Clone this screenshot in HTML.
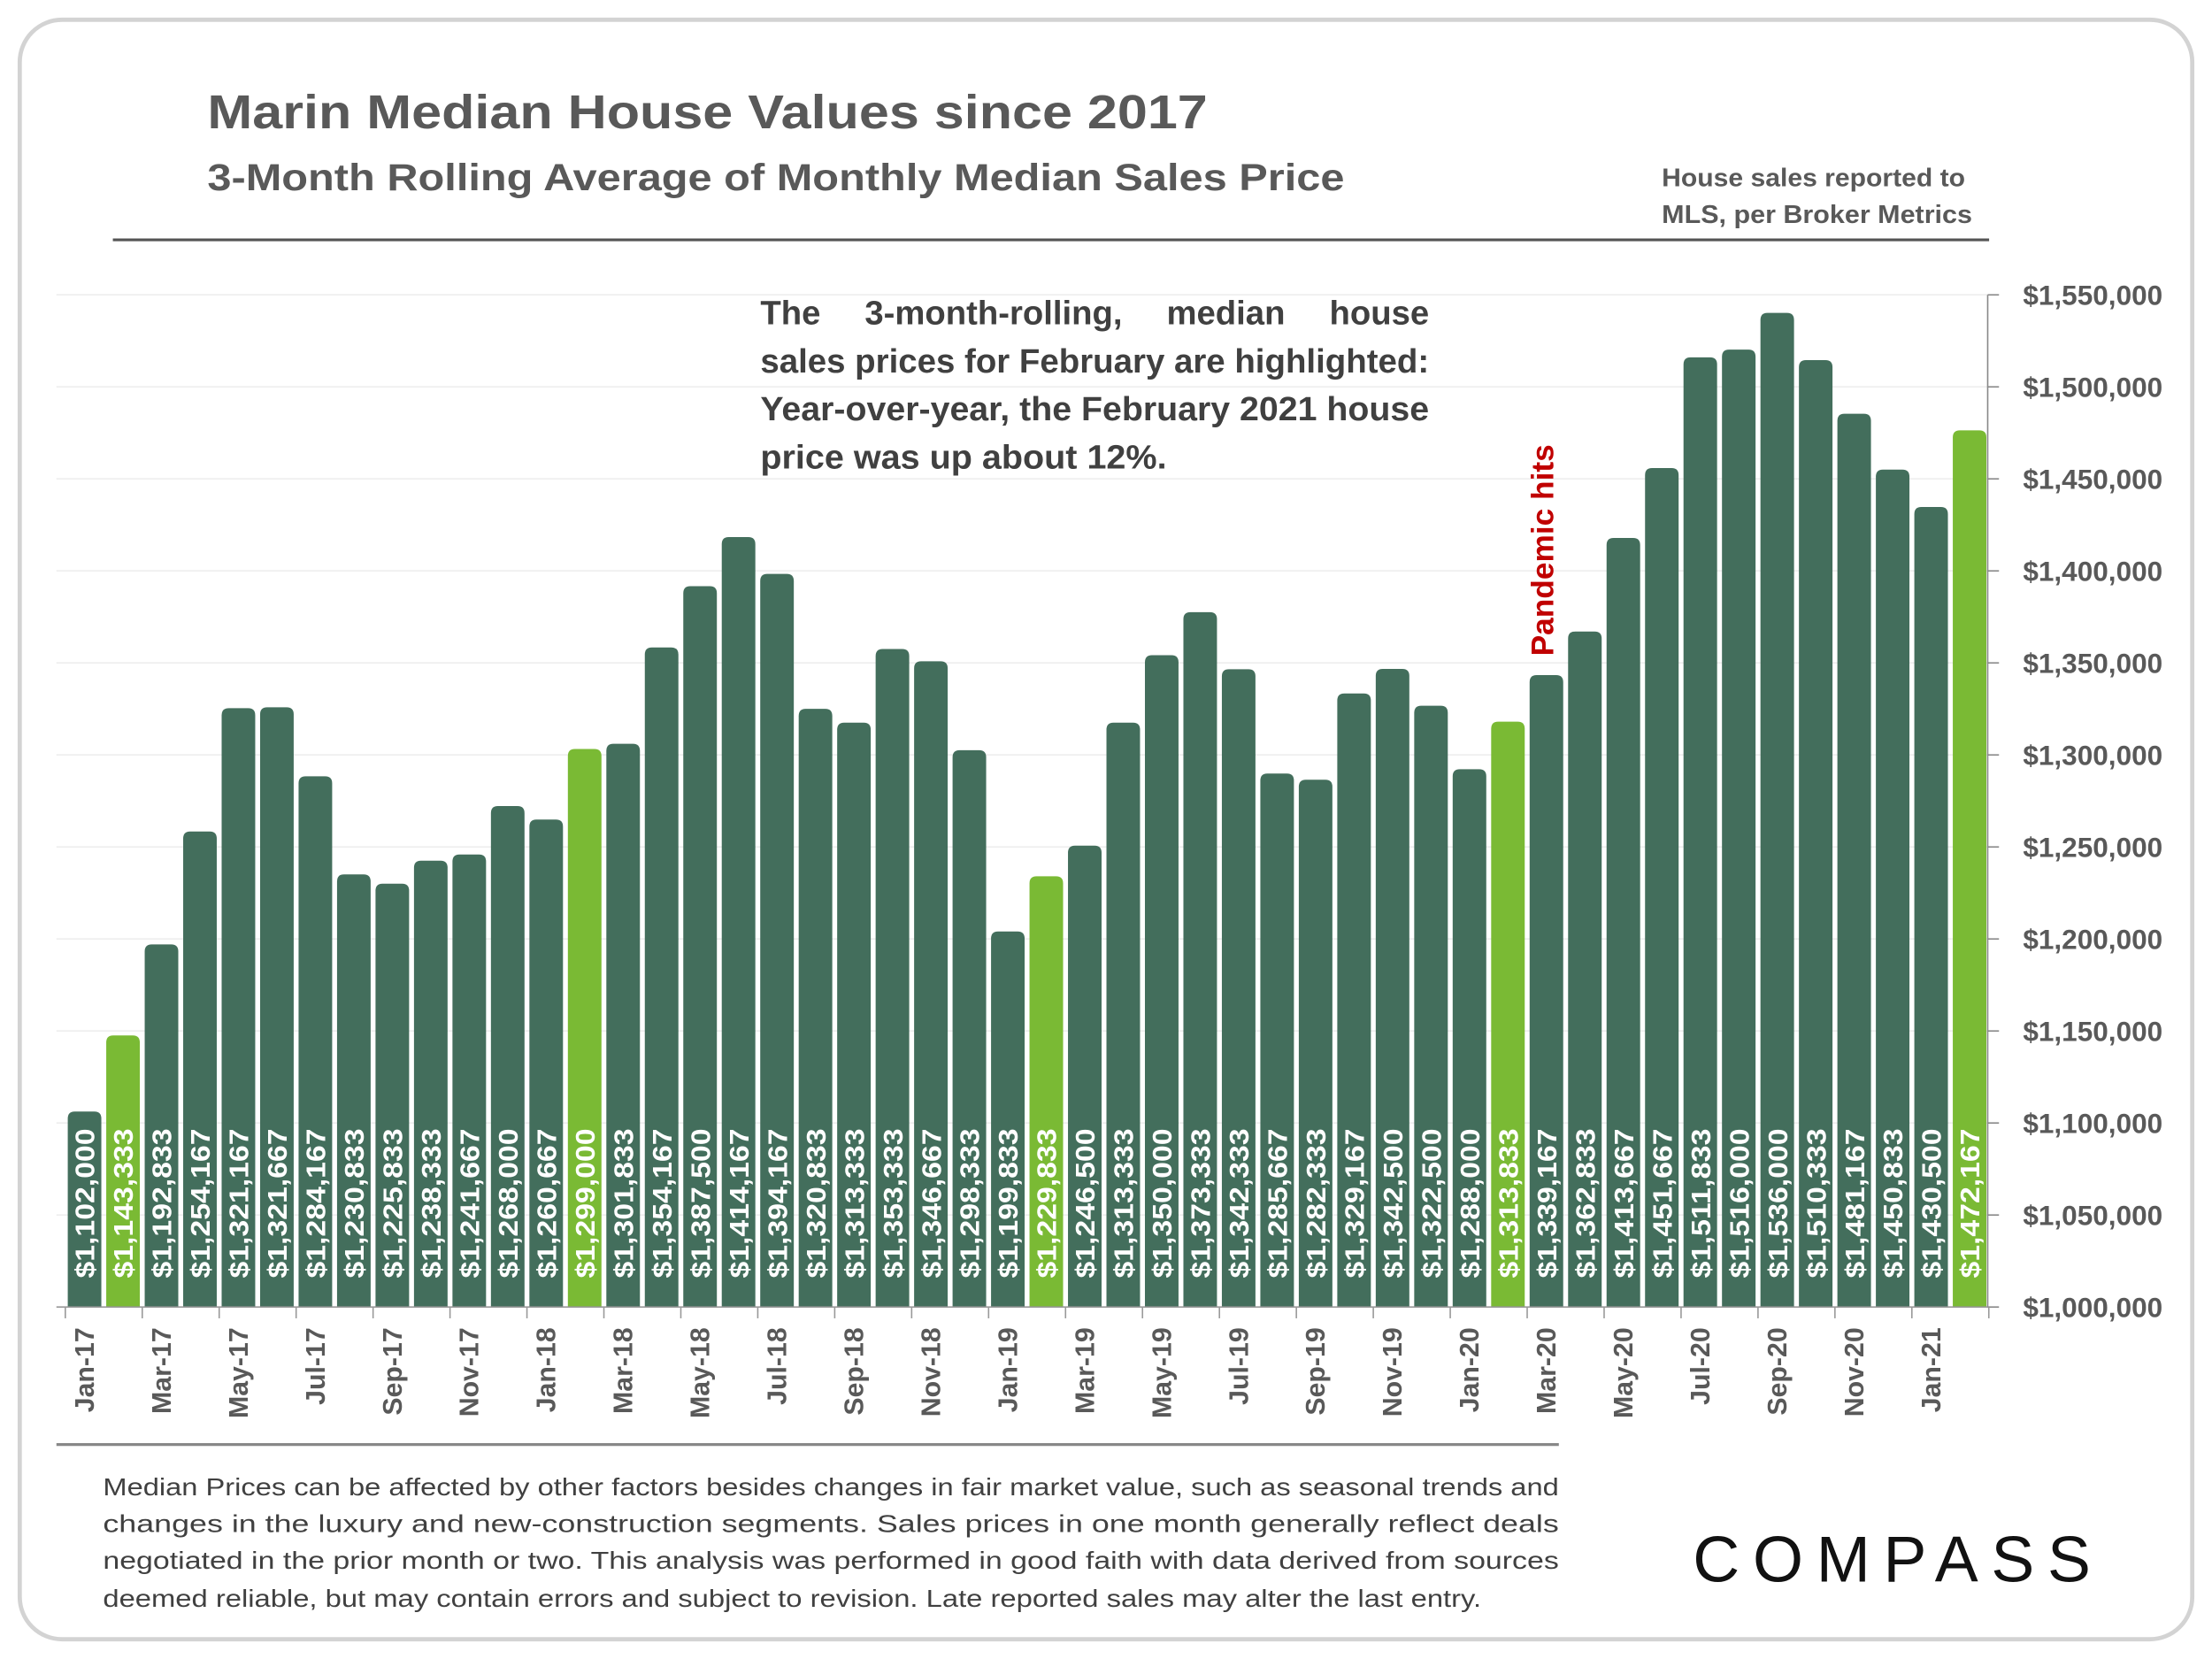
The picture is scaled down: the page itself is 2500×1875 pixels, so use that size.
<!DOCTYPE html>
<html><head><meta charset="utf-8"><style>
html,body{margin:0;padding:0;background:#fff;}
svg{display:block;}
text{font-family:"Liberation Sans",sans-serif;}
</style></head><body>
<svg id="chart" width="2500" height="1875" viewBox="0 0 1568 1176" xmlns="http://www.w3.org/2000/svg">
<rect x="14" y="14" width="1540" height="1148" rx="30" fill="#fff" stroke="#d3d3d3" stroke-width="3"/>
<text x="147" y="91" font-size="34" font-weight="bold" fill="#595959" textLength="709" lengthAdjust="spacingAndGlyphs">Marin Median House Values since 2017</text>
<text x="147" y="135" font-size="27" font-weight="bold" fill="#595959" textLength="806" lengthAdjust="spacingAndGlyphs">3-Month Rolling Average of Monthly Median Sales Price</text>
<text x="1178" y="132" font-size="18" font-weight="bold" fill="#595959" textLength="215" lengthAdjust="spacingAndGlyphs">House sales reported to</text>
<text x="1178" y="158" font-size="18" font-weight="bold" fill="#595959" textLength="220" lengthAdjust="spacingAndGlyphs">MLS, per Broker Metrics</text>
<line x1="80" y1="170" x2="1410" y2="170" stroke="#555" stroke-width="2"/>
<g id="grid"></g>
<g id="bars"></g>
<g id="yaxis"></g>
<g id="xaxis"></g>
<g font-size="24" font-weight="bold" fill="#404040">
<text class="just" data-w="474" x="539" y="230">The 3-month-rolling, median house</text>
<text x="539" y="264" textLength="474" lengthAdjust="spacingAndGlyphs">sales prices for February are highlighted:</text>
<text x="539" y="298" textLength="474" lengthAdjust="spacingAndGlyphs">Year-over-year, the February 2021 house</text>
<text x="539" y="332" textLength="288" lengthAdjust="spacingAndGlyphs">price was up about 12%.</text>
</g>
<text transform="translate(1101,465) rotate(-90)" font-size="22" font-weight="bold" fill="#c00000" textLength="150" lengthAdjust="spacingAndGlyphs">Pandemic hits</text>
<line x1="40" y1="1024" x2="1105" y2="1024" stroke="#888" stroke-width="2"/>
<g font-size="17.5" fill="#404040">
<text x="73" y="1060" textLength="1032" lengthAdjust="spacingAndGlyphs">Median Prices can be affected by other factors besides changes in fair market value, such as seasonal trends and</text>
<text x="73" y="1086" textLength="1032" lengthAdjust="spacingAndGlyphs">changes in the luxury and new-construction segments. Sales prices in one month generally reflect deals</text>
<text x="73" y="1112" textLength="1032" lengthAdjust="spacingAndGlyphs">negotiated in the prior month or two. This analysis was performed in good faith with data derived from sources</text>
<text x="73" y="1139" textLength="977" lengthAdjust="spacingAndGlyphs">deemed reliable, but may contain errors and subject to revision. Late reported sales may alter the last entry.</text>
</g>
<text x="1200" y="1121" font-size="46" fill="#111" textLength="282" lengthAdjust="spacing">COMPASS</text>
</svg>
<script>
const months = ["Jan-17","Feb-17","Mar-17","Apr-17","May-17","Jun-17","Jul-17","Aug-17","Sep-17","Oct-17","Nov-17","Dec-17","Jan-18","Feb-18","Mar-18","Apr-18","May-18","Jun-18","Jul-18","Aug-18","Sep-18","Oct-18","Nov-18","Dec-18","Jan-19","Feb-19","Mar-19","Apr-19","May-19","Jun-19","Jul-19","Aug-19","Sep-19","Oct-19","Nov-19","Dec-19","Jan-20","Feb-20","Mar-20","Apr-20","May-20","Jun-20","Jul-20","Aug-20","Sep-20","Oct-20","Nov-20","Dec-20","Jan-21","Feb-21"];
const prices = [1102000,1143333,1192833,1254167,1321167,1321667,1284167,1230833,1225833,1238333,1241667,1268000,1260667,1299000,1301833,1354167,1387500,1414167,1394167,1320833,1313333,1353333,1346667,1298333,1199833,1229833,1246500,1313333,1350000,1373333,1342333,1285667,1282333,1329167,1342500,1322500,1288000,1313833,1339167,1362833,1413667,1451667,1511833,1516000,1536000,1510333,1481167,1450833,1430500,1472167];
const highlighted = [1,13,25,37,49];
const yTicks = [1000000,1050000,1100000,1150000,1200000,1250000,1300000,1350000,1400000,1450000,1500000,1550000];

const NS="http://www.w3.org/2000/svg";
const X0=46.3, STEP=27.27, BW=23.8;
const yMin=1000000, yMax=1550000, yBot=926.5, yTop=209;
function y(v){return yBot-(v-yMin)/(yMax-yMin)*(yBot-yTop);}
function xc(i){return X0+STEP*(i+0.5);}
function mk(tag,attrs,parent){const e=document.createElementNS(NS,tag);for(const k in attrs)e.setAttribute(k,attrs[k]);parent.appendChild(e);return e;}
function fmt(v){return "$"+v.toLocaleString("en-US");}

const grid=document.getElementById('grid'), bars=document.getElementById('bars'), ya=document.getElementById('yaxis'), xa=document.getElementById('xaxis');
yTicks.forEach(t=>{
  const g=mk('line',{x1:40,x2:1409,y1:y(t),y2:y(t),stroke:'#eeeeee','stroke-width':1},grid);
  
  
  const tk=mk('line',{x1:1409,x2:1417,y1:y(t),y2:y(t),stroke:'#888','stroke-width':1},ya);
  
  
  const lb=mk('text',{x:1434,y:y(t)+7,'font-size':20,'font-weight':'bold',fill:'#595959',textLength:99,lengthAdjust:'spacingAndGlyphs'},ya);
  lb.textContent=fmt(t);
  
  
});
const ax=mk('line',{x1:1409,x2:1409,y1:yTop,y2:yBot,stroke:'#888','stroke-width':1},ya);



prices.forEach((v,i)=>{
  const x=xc(i)-BW/2, top=y(v)-5.5, r=5;
  const col=highlighted.includes(i)?'#7aba34':'#436e5c';
  const d=`M${x},${yBot} L${x},${top+r} Q${x},${top} ${x+r},${top} L${x+BW-r},${top} Q${x+BW},${top} ${x+BW},${top+r} L${x+BW},${yBot} Z`;
  const b=mk('path',{d:d,fill:col},bars);
  
  
  const t=mk('text',{transform:`translate(${xc(i)+7},906) rotate(-90)`,'font-size':19,'font-weight':'bold',fill:'#fff',textLength:106,lengthAdjust:'spacingAndGlyphs'},bars);
  t.textContent=fmt(v);
  
  
});

const xl=mk('line',{x1:40,x2:1409,y1:yBot,y2:yBot,stroke:'#999','stroke-width':1},xa);


for(let i=0;i<=months.length;i+=2){
  const tx=X0+STEP*i;
  const tk=mk('line',{x1:tx,x2:tx,y1:yBot,y2:yBot+8,stroke:'#999','stroke-width':1},xa);
  
  
}
months.forEach((m,i)=>{
  if(i%2) return;
  const t=mk('text',{transform:`translate(${xc(i)+6.5},941) rotate(-90)`,'text-anchor':'end','font-size':19,'font-weight':'bold',fill:'#595959'},xa);
  t.textContent=m;
  
  
});

document.querySelectorAll('text.just').forEach(el=>{
  const W=+el.getAttribute('data-w');
  const words=el.textContent.split(' ');
  const x0=+el.getAttribute('x');
  el.textContent='';
  const spans=words.map(w=>{const s=mk('tspan',{},el);s.textContent=w;return s;});
  const widths=spans.map(s=>s.getComputedTextLength());
  const total=widths.reduce((a,b)=>a+b,0);
  const gap=(W-total)/(words.length-1);
  let x=x0;
  spans.forEach((s,k)=>{s.setAttribute('x',x);x+=widths[k]+gap;});
});
</script>
</body></html>
